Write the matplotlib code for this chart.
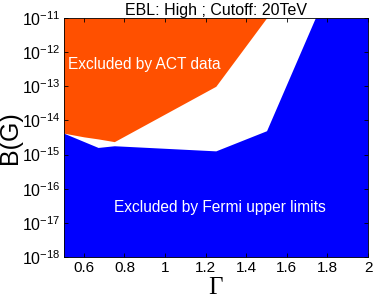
import matplotlib.pyplot as plt
import numpy as np

# Fermi exclusion: upper edge of the blue region (log10 B)
fermi_gamma = [0.5, 0.67, 0.75, 1.25, 1.5, 1.74, 2.0]
fermi_logb = [-14.37, -14.79, -14.74, -14.89, -14.30, -11.0, -11.0]

# ACT exclusion: lower edge of the orange region (log10 B)
act_gamma = [0.5, 0.6, 0.67, 0.75, 1.25, 1.5]
act_logb = [-14.37, -14.48, -14.54, -14.62, -13.0, -11.0]

plt.rcParams['font.family'] = ['Liberation Sans', 'DejaVu Sans']
plt.rcParams['mathtext.fontset'] = 'custom'
plt.rcParams['mathtext.rm'] = 'Liberation Sans'
plt.rcParams['mathtext.it'] = 'Liberation Sans:italic'

fig = plt.figure(figsize=(3.74, 2.99), dpi=100)
ax = fig.add_axes([0.170, 0.140, 0.814, 0.800])

ax.fill_between(act_gamma, 10.0 ** np.array(act_logb), 1e-11,
                color='#ff5000', linewidth=0)
ax.fill_between(fermi_gamma, 1e-18, 10.0 ** np.array(fermi_logb),
                color='#0000ff', linewidth=0)

ax.set_yscale('log')
ax.set_xlim(0.5, 2.0)
ax.set_ylim(1e-18, 1e-11)
ax.set_xticks([0.6, 0.8, 1.0, 1.2, 1.4, 1.6, 1.8, 2.0])
ax.set_xticklabels(['0.6', '0.8', '1', '1.2', '1.4', '1.6', '1.8', '2'])
ax.set_yticks([10.0 ** e for e in range(-18, -10)])
ax.set_yticklabels([r'$\mathregular{10^{%d}}$' % e for e in range(-18, -10)])
ax.yaxis.set_minor_locator(plt.NullLocator())
ax.tick_params(axis='both', which='both', direction='in', top=True, right=True,
               length=3, width=0.6)
ax.tick_params(axis='x', labelsize=11, pad=3)
ax.tick_params(axis='y', labelsize=11.5, pad=2)
for s in ax.spines.values():
    s.set_linewidth(0.6)

ax.text(0.9, 10 ** -12.35, 'Excluded by ACT data', color='white', fontsize=11.2,
        ha='center', va='center')
ax.text(1.27, 10 ** -16.55, 'Excluded by Fermi upper limits', color='white',
        fontsize=11.2, ha='center', va='center')

ax.set_title('EBL: High ; Cutoff: 20TeV', fontsize=11.5, pad=2)
ax.set_xlabel('\u0393', fontsize=18, family='Liberation Serif', labelpad=1)
ax.set_ylabel('B(G)', fontsize=18)
ax.yaxis.set_label_coords(-0.135, 0.5)

fig.savefig('out.png', dpi=100)
